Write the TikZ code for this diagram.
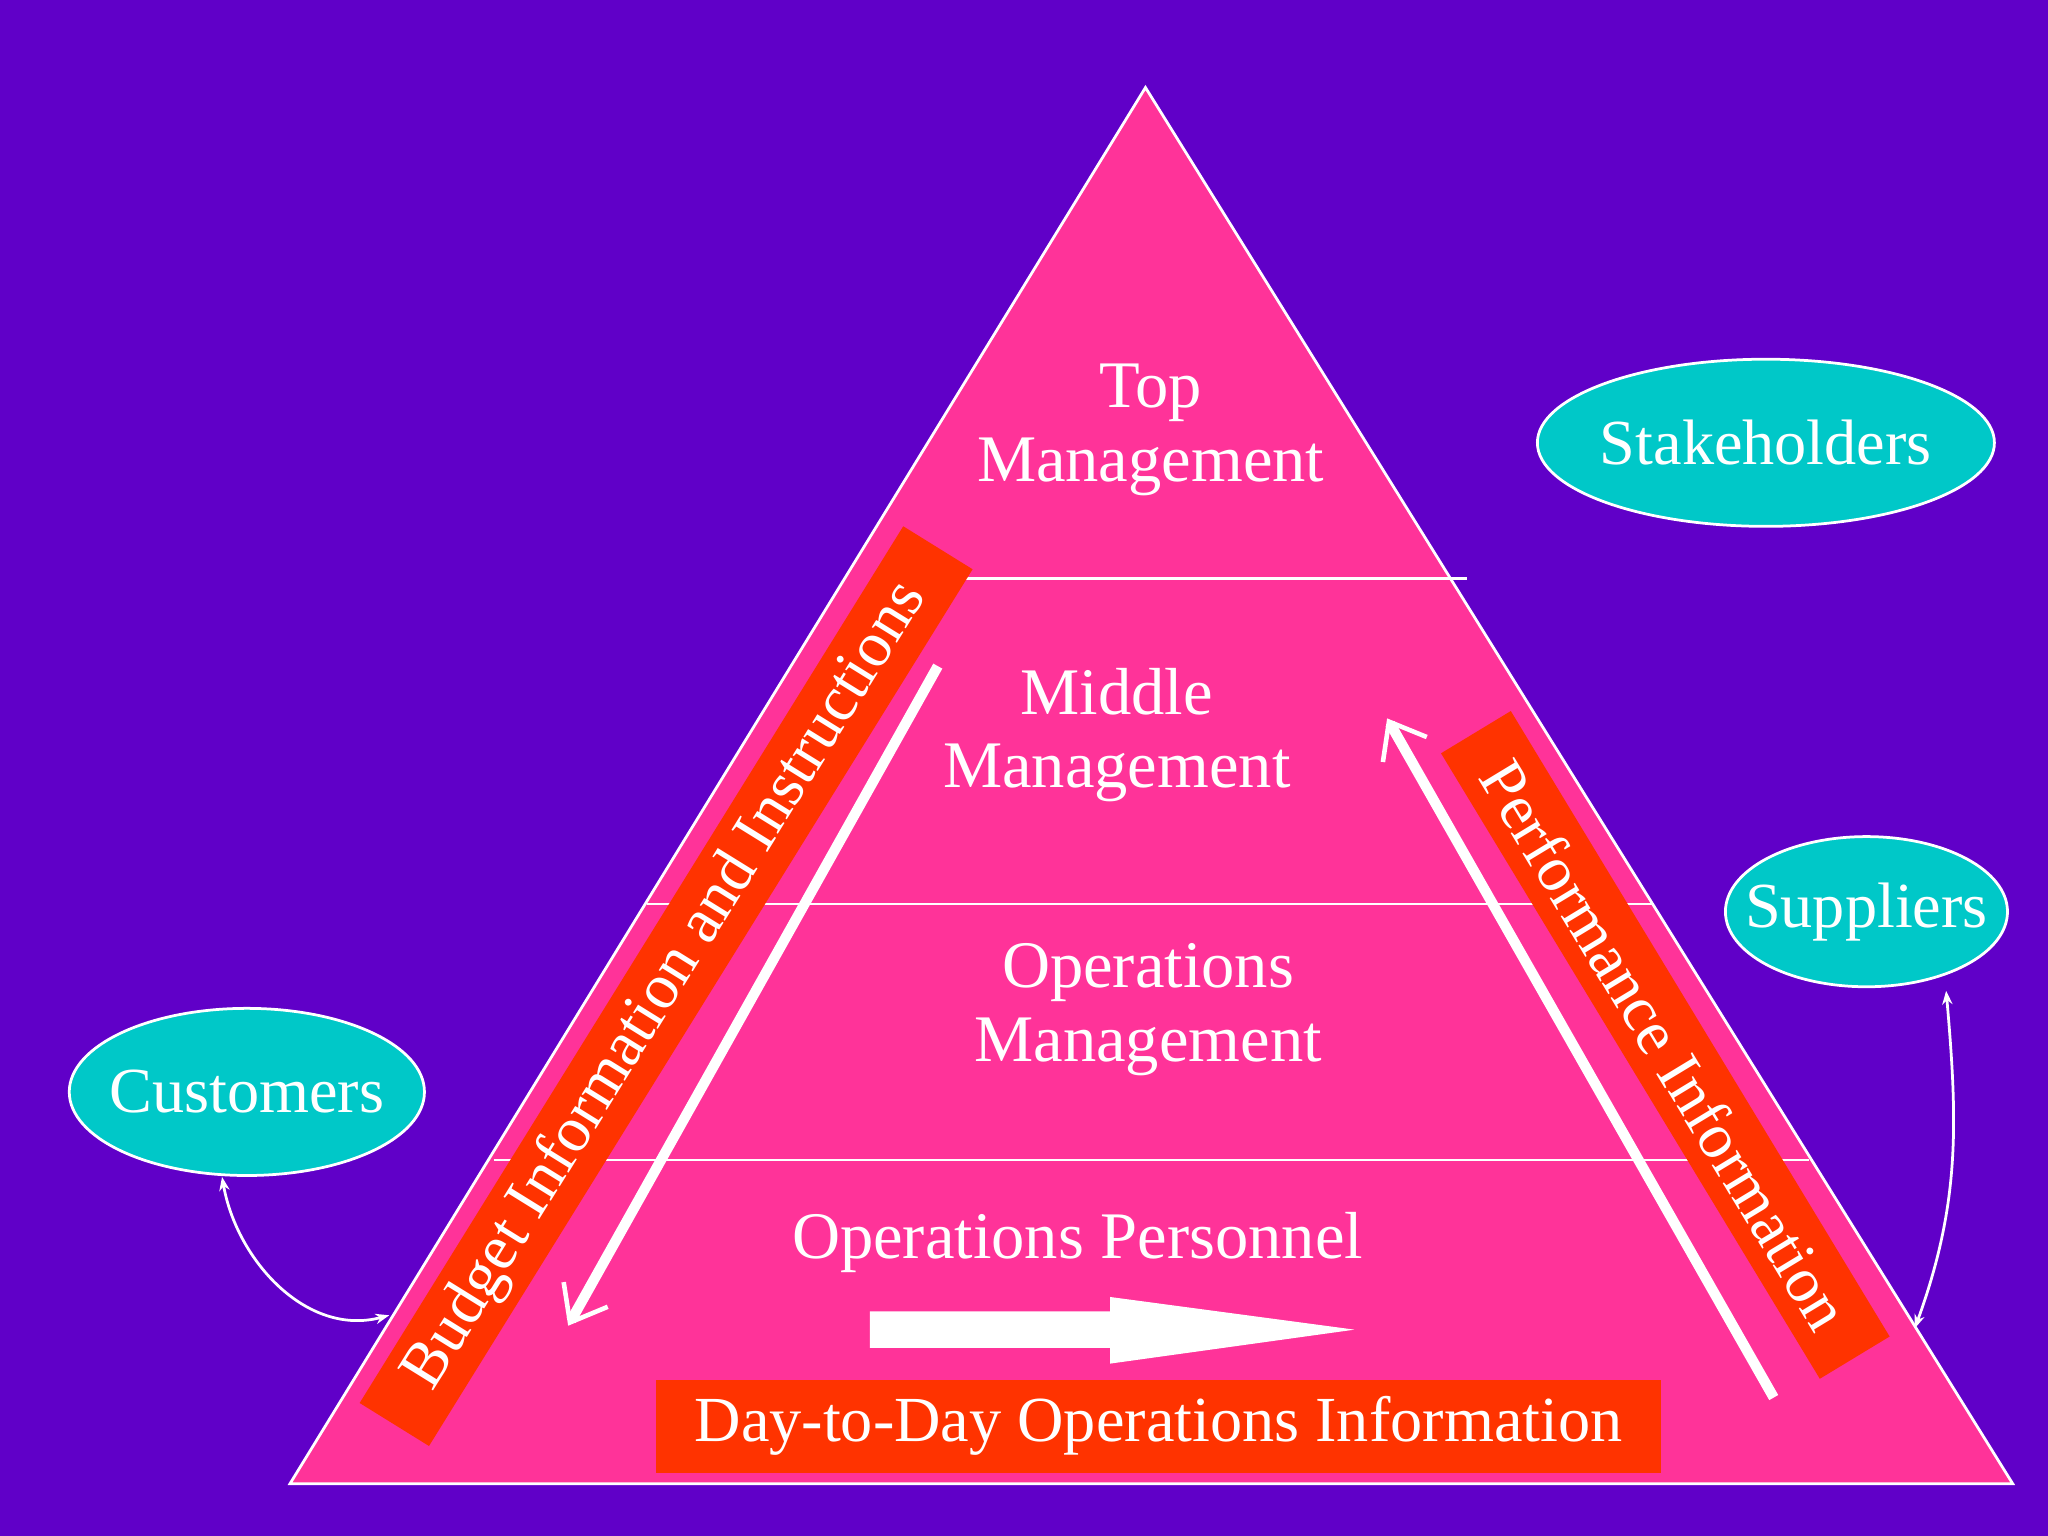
\documentclass[tikz,border=0pt]{standalone}
\usepackage{fontspec}
\setmainfont{Liberation Serif}
\usetikzlibrary{arrows.meta,shapes.geometric}
\definecolor{bgp}{HTML}{6000C8}
\definecolor{pyr}{HTML}{FF3399}
\definecolor{teal}{HTML}{00C8C8}
\definecolor{redb}{HTML}{FF3300}
\tikzset{
 lvl/.style={font=\fontsize{29}{32}\selectfont,text=white,align=center},
 oval/.style={ellipse,draw=white,line width=1.2pt,fill=teal,text=white,font=\fontsize{28}{30}\selectfont,inner xsep=-12pt,inner ysep=0pt},
 redbox/.style={fill=redb,text=white,font=\fontsize{28}{30}\selectfont,inner sep=0pt,align=center},
 flow/.style={draw=white,line width=4.5pt,-{Straight Barb[length=14pt,width=22pt,line width=2pt]}},
 thin/.style={draw=white,line width=1.2pt,{Stealth[length=6pt]}-{Stealth[length=6pt]}},
 sep/.style={draw=white,line width=1pt}
}
\begin{document}
\begin{tikzpicture}[x=0.02cm,y=-0.02cm]
\fill[bgp] (0,0) rectangle (1568,1176);
\useasboundingbox (0,0) rectangle (1568,1176);
\fill[pyr,draw=white,line width=1.2pt] (877,67) -- (1541,1136) -- (222,1136) -- cycle;
\draw[sep] (735,443) -- (1123,443);
\draw[sep] (495,692) -- (1265,692);
\draw[sep] (378,888) -- (1385,888);
\node[lvl] (top) at (881,329) {Top\\Management};
\node[lvl] (mid) at (855,563) {Middle\\Management};
\node[lvl] (opm) at (879,773) {Operations\\Management};
\node[lvl] (opp) at (825,951) {Operations Personnel};
\node[oval,minimum width=7.0cm,minimum height=2.56cm] (stk) at (1352,339) {Stakeholders};
\node[oval,minimum width=4.32cm,minimum height=2.3cm] (sup) at (1429,698) {Suppliers};
\node[oval,minimum width=5.44cm,minimum height=2.56cm] (cus) at (189,836) {Customers};
\node[redbox,rotate=58.2,minimum width=15.8cm,minimum height=1.25cm] (bud) at (510,755) {Budget Information and Instructions};
\node[redbox,rotate=-58.8,minimum width=11.2cm,minimum height=1.25cm] (perf) at (1275,800) {Performance Information};
\node[redbox,minimum width=15.4cm,minimum height=1.42cm] (day) at (887,1092) {Day-to-Day Operations Information};
\coordinate (l1) at (718,510); \coordinate (l2) at (435,1015);
\coordinate (r1) at (1358,1070); \coordinate (r2) at (1062,550);
\draw[flow] (l1) -- (l2);
\draw[flow] (r1) -- (r2);
\fill[white] (666,1004) -- (850,1004) -- (850,993) -- (1037,1018) -- (850,1044) -- (850,1032) -- (666,1032) -- cycle;
\coordinate (ct) at (298,1007);
\coordinate (st) at (1466,1017);
\draw[thin] (cus.south) ++(-19,0) coordinate (cb) (cb) to[out=-80,in=195] (ct);
\draw[thin] (sup.south) ++(61,2) coordinate (sb) (sb) to[out=-85,in=70] (st);
\end{tikzpicture}
\end{document}
